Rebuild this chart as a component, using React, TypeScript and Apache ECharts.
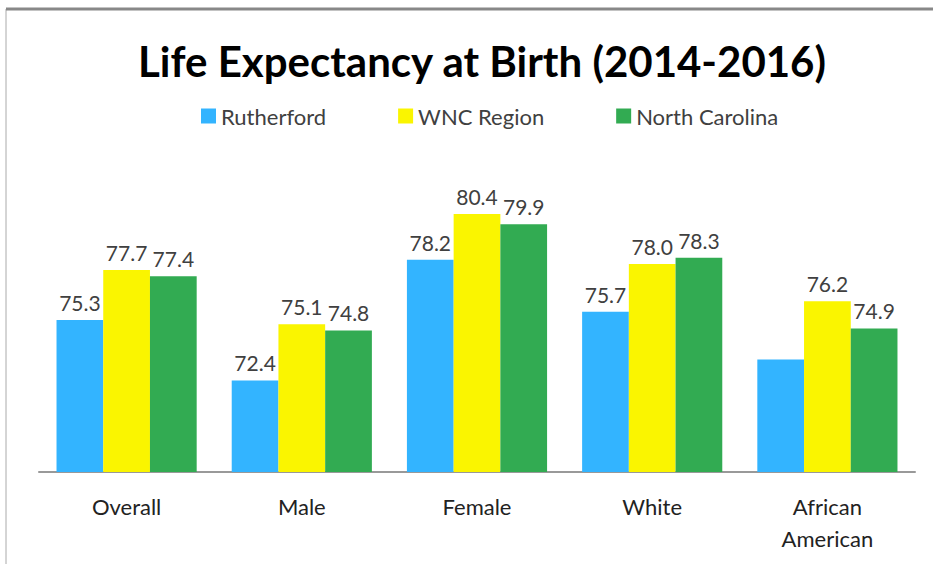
import React, { useEffect, useRef } from "react";
import * as echarts from "echarts";

const categories = ["Overall", "Male", "Female", "White", "African\nAmerican"];
const rutherford = [75.3, 72.4, 78.2, 75.7, 73.4];
const wncRegion = [77.7, 75.1, 80.4, 78.0, 76.2];
const northCarolina = [77.4, 74.8, 79.9, 78.3, 74.9];
const hiddenLabels = [[0, 4]]; // Rutherford, African American label not shown

const FONT = "Lato, 'Open Sans', sans-serif";

export default function App() {
  const ref = useRef<HTMLDivElement>(null);
  useEffect(() => {
    if (!ref.current) return;
    const chart = echarts.init(ref.current, undefined, { renderer: "svg" });
    const label = {
      show: true,
      position: "top" as const,
      distance: 7,
      color: "#404040",
      fontSize: 21,
      fontFamily: FONT,
      formatter: (p: any) => p.value.toFixed(1),
    };
    const mk = (name: string, data: number[], color: string, si: number) => ({
      name,
      type: "bar",
      data: data.map((v, i) =>
        hiddenLabels.some(([s, c]) => s === si && c === i)
          ? { value: v, label: { show: false } }
          : v
      ),
      itemStyle: { color },
      barGap: "0%",
      barCategoryGap: "20%",
      label,
    });
    chart.setOption({
      animation: false,
      title: {
        text: "Life Expectancy at Birth (2014-2016)",
        left: 477,
        textAlign: "center",
        top: 35,
        textStyle: { fontFamily: FONT, fontSize: 42, fontWeight: "bold", color: "#000" },
      },
      legend: {
        top: 100,
        left: 196,
        itemWidth: 15,
        itemHeight: 15,
        itemGap: 72,
        icon: "rect",
        textStyle: { fontFamily: FONT, fontSize: 22, color: "#404040" },
        data: ["Rutherford", "WNC Region", "North Carolina"],
      },
      grid: { left: 39, right: 18, top: 139, bottom: 92, containLabel: false },
      xAxis: {
        type: "category",
        data: categories,
        axisLine: { lineStyle: { color: "#999", width: 2 } },
        axisTick: { show: false },
        axisLabel: {
          fontFamily: FONT,
          fontSize: 22,
          color: "#222",
          margin: 18,
          lineHeight: 32,
        },
      },
      yAxis: {
        type: "value",
        min: 68,
        max: 84,
        show: false,
        splitLine: { show: false },
      },
      graphic: [
        {
          type: "rect",
          shape: { x: 6, y: 9, width: 1000, height: 1000 },
          style: { fill: "none", stroke: "#aaa", lineWidth: 1 },
        },
        {
          type: "line",
          shape: { x1: 6, y1: 9, x2: 933, y2: 9 },
          style: { stroke: "#888", lineWidth: 3 },
        },
      ],
      series: [
        mk("Rutherford", rutherford, "#33B4FF", 0),
        mk("WNC Region", wncRegion, "#FAF500", 1),
        mk("North Carolina", northCarolina, "#32AB52", 2),
      ],
    });
    return () => chart.dispose();
  }, []);
  return <div ref={ref} style={{ width: 933, height: 564, position: "absolute", left: 0, top: 0, background: "#fff" }} />;
}
